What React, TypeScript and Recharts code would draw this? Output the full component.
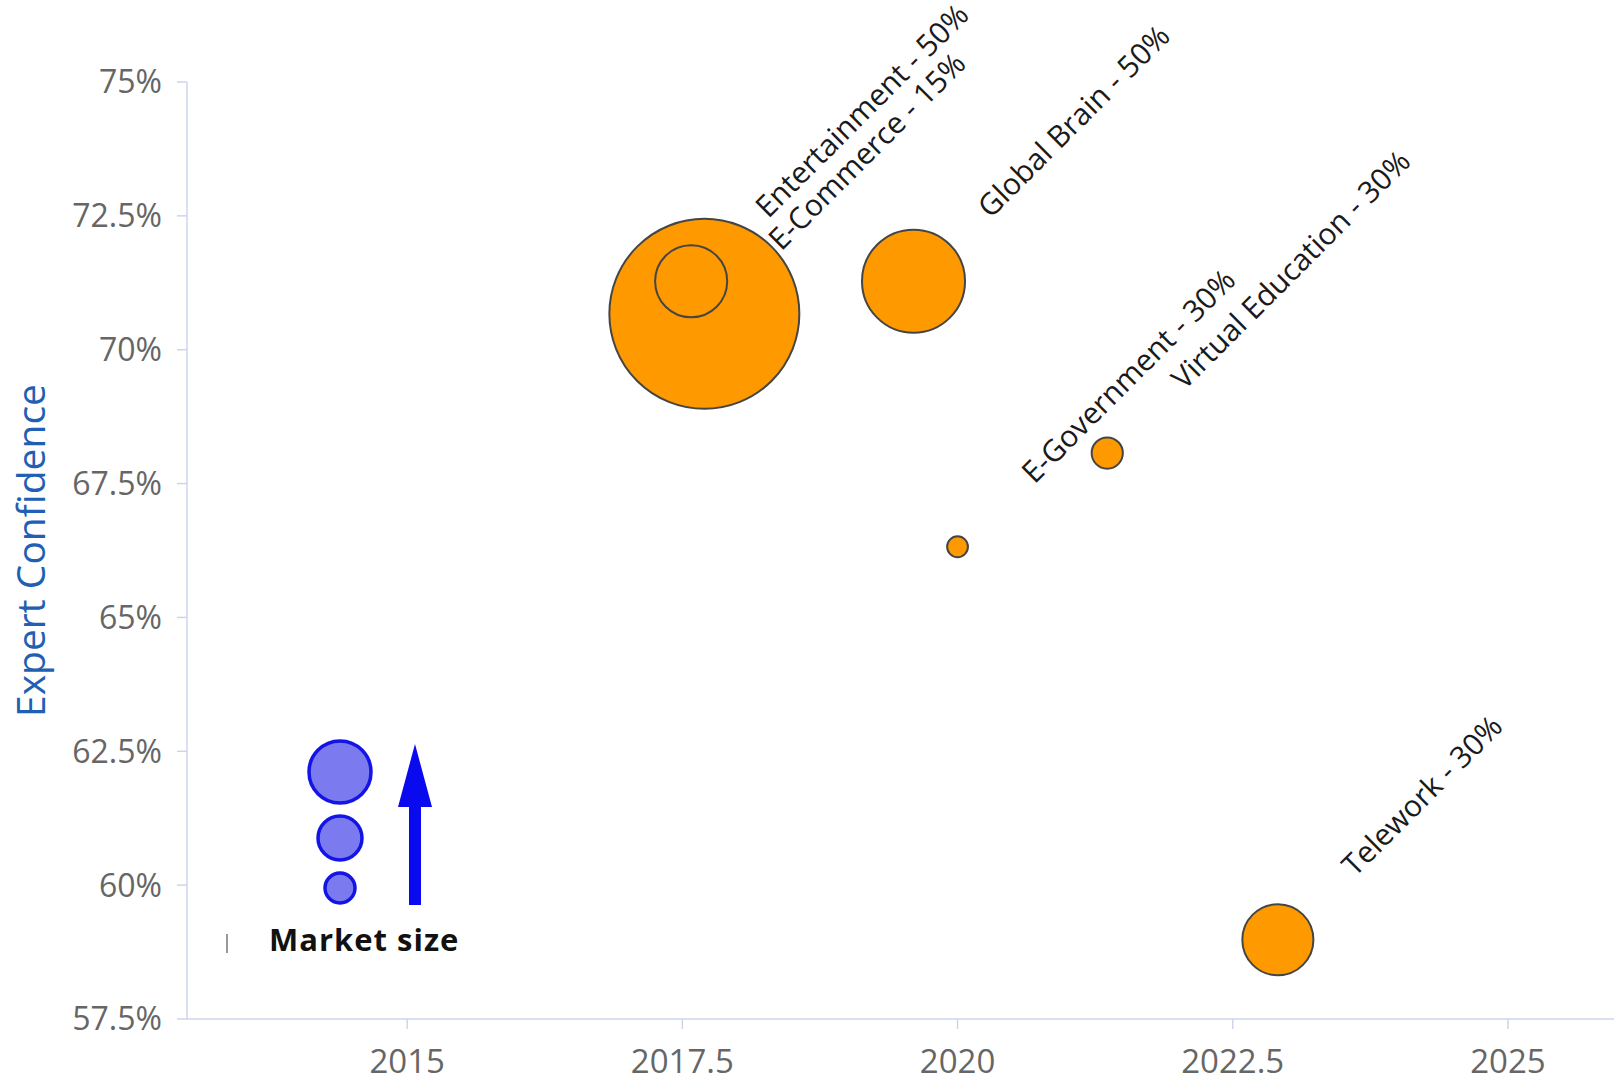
import { ScatterChart, Scatter, XAxis, YAxis, ZAxis } from "recharts";

const topics = ["E-Commerce", "Entertainment", "Global Brain", "E-Government", "Virtual Education", "Telework"];
const years = [2017.7, 2017.58, 2019.6, 2020.0, 2021.36, 2022.91];
const confidence = [70.67, 71.28, 71.28, 66.32, 68.07, 58.98];
const marketSize = [100, 14.4, 29.4, 1.2, 2.7, 14];
const shares = ["15%", "50%", "50%", "30%", "30%", "30%"];
const xTicks = [2015, 2017.5, 2020, 2022.5, 2025];
const yTicks = [57.5, 60, 62.5, 65, 67.5, 70, 72.5, 75];

const data = topics.map((name, i) => ({
  name,
  year: years[i],
  conf: confidence[i],
  size: marketSize[i],
  label: `${name} - ${shares[i]}`,
}));

const font = "'Open Sans', sans-serif";
const axisColor = "#ccd6eb";

const Bubble = (props: any) => {
  const { cx, cy, size, payload } = props;
  const r = Math.sqrt(size / Math.PI);
  const lx = cx + 77;
  const ly = cy - 62;
  return (
    <g>
      <circle cx={cx} cy={cy} r={r} fill="#ff9900" stroke="#454545" strokeWidth={2} />
      <text
        x={lx}
        y={ly}
        transform={`rotate(-45 ${lx} ${ly})`}
        fontSize={30}
        fill="#1a1a1a"
        fontFamily={font}
      >
        {payload.label}
      </text>
    </g>
  );
};

// the "Market size" key drawn over the plot
const SizeKey = () => (
  <svg
    width={1614}
    height={1081}
    style={{ position: "absolute", left: 0, top: 0, pointerEvents: "none" }}
  >
    <circle cx={340} cy={772} r={31} fill="#7b7bef" stroke="#1414e6" strokeWidth={3.5} />
    <circle cx={340} cy={838} r={22} fill="#7b7bef" stroke="#1414e6" strokeWidth={3.5} />
    <circle cx={340} cy={888} r={15} fill="#7b7bef" stroke="#1414e6" strokeWidth={3.5} />
    <rect x={409} y={800} width={12} height={105} fill="#0a0aee" />
    <polygon points="415,744 432,807 398,807" fill="#0a0aee" />
    <line x1={227} y1={934} x2={227} y2={953} stroke="#777" strokeWidth={1.5} />
    <text x={269} y={951} fontSize={31} fontWeight="bold" letterSpacing={1} fill="#111" fontFamily={font}>
      Market size
    </text>
  </svg>
);

export default function App() {
  return (
    <div style={{ position: "absolute", left: 0, top: 0, width: 1614, height: 1081, background: "#fff" }}>
      <ScatterChart
        width={1614}
        height={1081}
        margin={{ top: 82, right: -4, bottom: 0, left: 0 }}
      >
        <XAxis
          type="number"
          dataKey="year"
          domain={[2013, 2026]}
          ticks={xTicks}
          height={62}
          tickSize={10}
          tickMargin={21}
          stroke={axisColor}
          strokeWidth={1.5}
          tick={{ fill: "#666", fontSize: 33, fontFamily: font }}
          allowDecimals
        />
        <YAxis
          type="number"
          dataKey="conf"
          domain={[57.5, 75]}
          ticks={yTicks}
          width={187}
          tickSize={10}
          tickMargin={15}
          stroke={axisColor}
          strokeWidth={1.5}
          tickFormatter={(v: number) => `${v}%`}
          tick={{ fill: "#666", fontSize: 32, fontFamily: font }}
          label={{
            value: "Expert Confidence",
            angle: -90,
            position: "insideLeft",
            offset: 31,
            textAnchor: "middle",
            fill: "#1f5fb4",
            fontSize: 39,
            fontFamily: font,
          }}
        />
        <ZAxis type="number" dataKey="size" domain={[0, 100]} range={[0, 28353]} />
        <Scatter data={data} shape={<Bubble />} isAnimationActive={false} />
      </ScatterChart>
      <SizeKey />
    </div>
  );
}
